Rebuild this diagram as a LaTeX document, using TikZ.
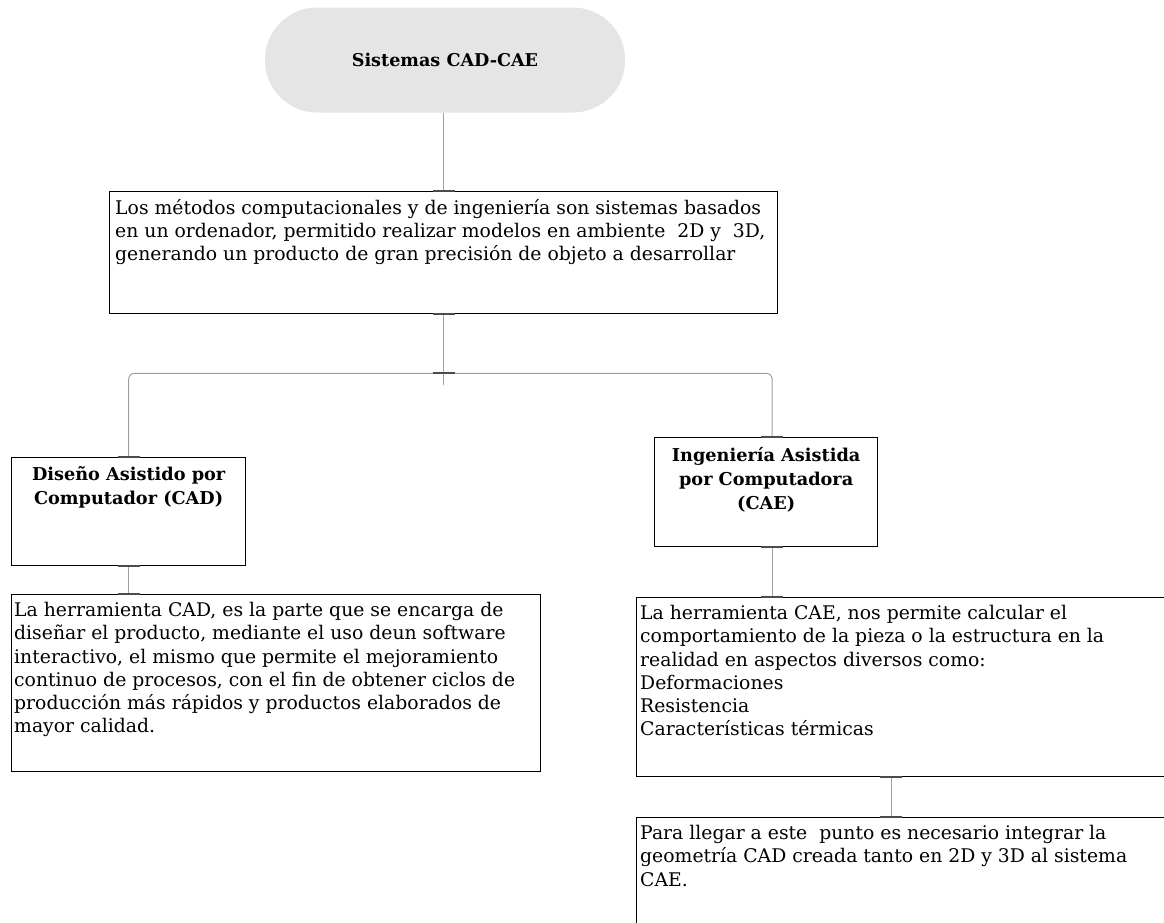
\documentclass[tikz,border=0pt]{standalone}
\usepackage{fontspec}
\setmainfont{DejaVu Serif}
\usetikzlibrary{calc}
\begin{document}
\begin{tikzpicture}[x=1pt,y=-1pt,
  boxnode/.style={draw=black,line width=1.3pt,minimum width=#1,inner sep=0pt,anchor=north west},
  conn/.style={draw=gray!75,line width=1pt},
  tick/.style={draw=gray!60!black,line width=1.8pt},
  body/.style={anchor=north west,align=left,inner sep=0pt,font=\fontsize{18.8}{23.3}\selectfont},
  title/.style={anchor=north,align=center,inner sep=0pt,font=\fontsize{17.7}{24}\selectfont\bfseries}]
\useasboundingbox (0,0) rectangle (1164,922);
\clip (0,0) rectangle (1164,922);
% top stadium
\node[fill=gray!20,rounded corners=52pt,minimum width=360pt,minimum height=105pt,
      font=\fontsize{17.6}{20}\selectfont\bfseries] (top) at (445,60) {Sistemas CAD-CAE};
% boxes
\node[boxnode=668pt,minimum height=122pt] (b1) at (109,191) {};
\node[boxnode=234pt,minimum height=108pt] (cad) at (11,457) {};
\node[boxnode=529pt,minimum height=177pt] (ltext) at (11,594) {};
\node[boxnode=223pt,minimum height=109pt] (cae) at (654,437) {};
\node[boxnode=560pt,minimum height=179pt] (ctext) at (636,597) {};
\node[boxnode=560pt,minimum height=140pt] (btext) at (636,817) {};
% texts
\node[body] (t1) at ($(b1.north west)+(6,8)$) {Los métodos computacionales y de ingeniería son sistemas basados\\en un ordenador, permitido realizar modelos en ambiente\ \ 2D y\ \ 3D,\\generando un producto de gran precisión de objeto a desarrollar};
\node[title] (tcad) at ($(cad.north)+(0,9)$) {Diseño Asistido por\\Computador (CAD)};
\node[body] (tl) at ($(ltext.north west)+(3,8)$) {La herramienta CAD, es la parte que se encarga de\\diseñar el producto, mediante el uso deun software\\interactivo, el mismo que permite el mejoramiento\\continuo de procesos, con el fin de obtener ciclos de\\producción más rápidos y productos elaborados de\\mayor calidad.};
\node[title] (tcae) at ($(cae.north)+(0,10)$) {Ingeniería Asistida\\por Computadora\\(CAE)};
\node[body] (tc) at ($(ctext.north west)+(4,8)$) {La herramienta CAE, nos permite calcular el\\comportamiento de la pieza o la estructura en la\\realidad en aspectos diversos como:\\Deformaciones\\Resistencia\\Características térmicas};
\node[body] (tb) at ($(btext.north west)+(4,8)$) {Para llegar a este\ \ punto es necesario integrar la\\geometría CAD creada tanto en 2D y 3D al sistema\\CAE.};
% connection points
\coordinate (j) at ($(b1.south)+(0,59)$);
\coordinate (caetop) at ($(cae.north)+(6,0)$);
\coordinate (caebot) at ($(cae.south)+(6,0)$);
\coordinate (ctbot) at ($(ctext.south west)+(255,0)$);
% connectors
\draw[conn] (b1.north |- top.south) -- (b1.north);
\draw[conn] (b1.south) -- ($(j)+(0,12)$);
\draw[conn,rounded corners=6pt] (cad.north) |- (j) -| (caetop);
\draw[conn] (cad.south) -- (cad.south |- ltext.north);
\draw[conn] (caebot) -- (caebot |- ctext.north);
\draw[conn] (ctbot) -- (ctbot |- btext.north);
% ticks
\foreach \p in {b1.north,b1.south,j,cad.north,cad.south,caetop,caebot}{
  \draw[tick] ($(\p)+(-11,0)$) -- ($(\p)+(11,0)$);}
\draw[tick] ($(cad.south |- ltext.north)+(-11,0)$) -- ($(cad.south |- ltext.north)+(11,0)$);
\draw[tick] ($(caebot |- ctext.north)+(-11,0)$) -- ($(caebot |- ctext.north)+(11,0)$);
\draw[tick] ($(ctbot)+(-11,0)$) -- ($(ctbot)+(11,0)$);
\draw[tick] ($(ctbot |- btext.north)+(-11,0)$) -- ($(ctbot |- btext.north)+(11,0)$);
\end{tikzpicture}
\end{document}
